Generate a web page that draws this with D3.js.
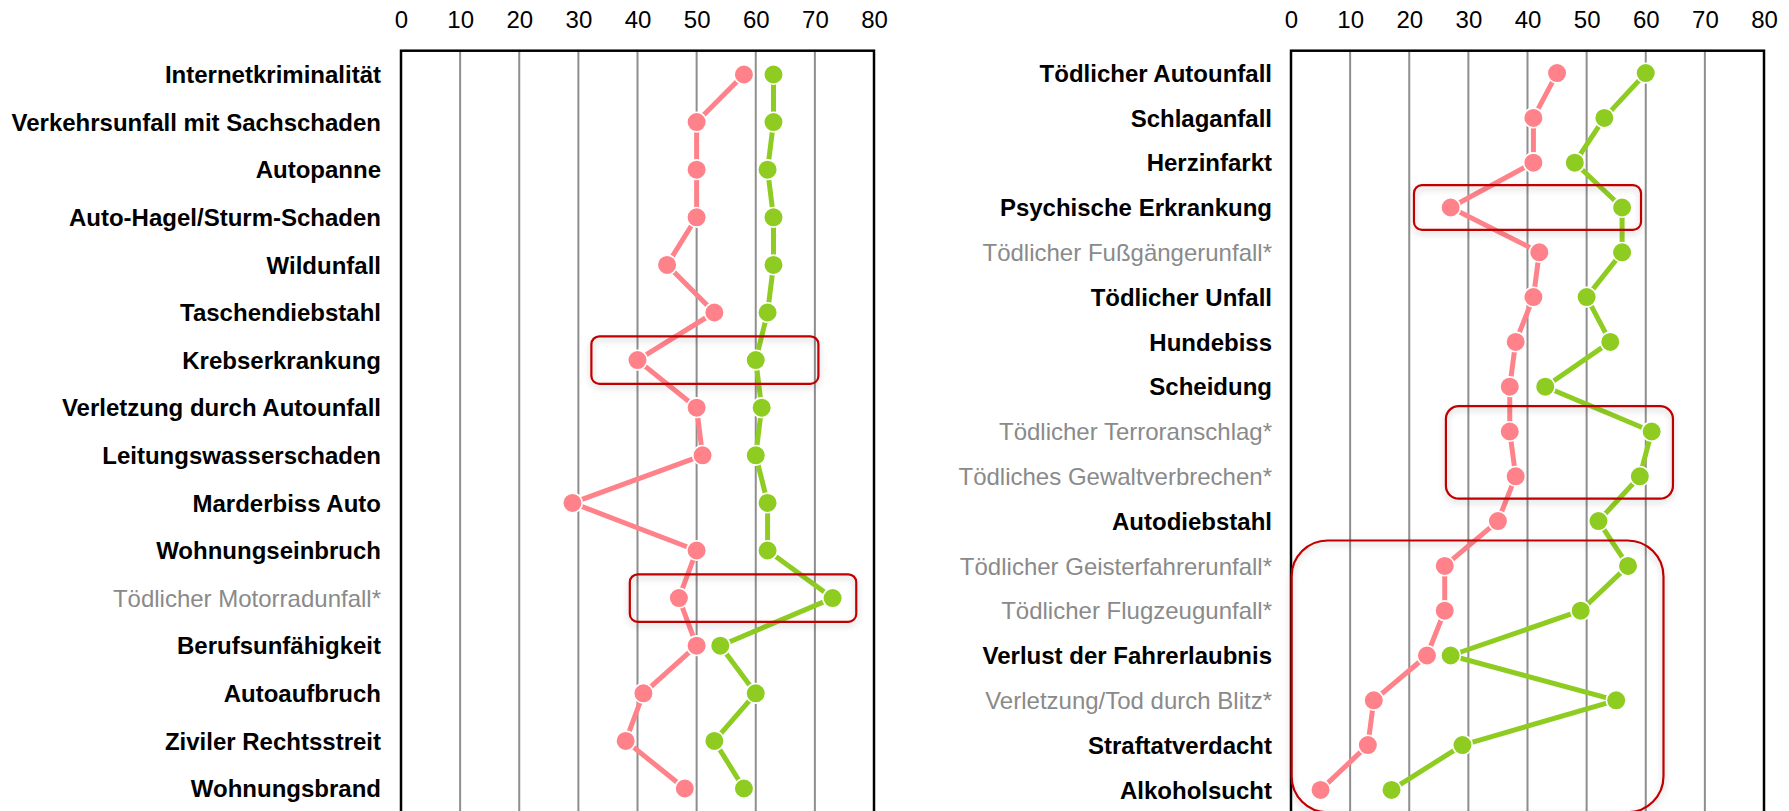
<!DOCTYPE html>
<html>
<head>
<meta charset="utf-8">
<script src="https://cdn.jsdelivr.net/npm/d3@7/dist/d3.min.js"></script>
<style>
  html, body { margin: 0; padding: 0; background: #ffffff; }
  svg { display: block; }
</style>
</head>
<body>
<svg id="chart" width="1789" height="811"></svg>
<script>
// ---------------- DATA ----------------
const xTicks = [0, 10, 20, 30, 40, 50, 60, 70, 80];

const leftCategories = [
  "Internetkriminalität",
  "Verkehrsunfall mit Sachschaden",
  "Autopanne",
  "Auto-Hagel/Sturm-Schaden",
  "Wildunfall",
  "Taschendiebstahl",
  "Krebserkrankung",
  "Verletzung durch Autounfall",
  "Leitungswasserschaden",
  "Marderbiss Auto",
  "Wohnungseinbruch",
  "Tödlicher Motorradunfall*",
  "Berufsunfähigkeit",
  "Autoaufbruch",
  "Ziviler Rechtsstreit",
  "Wohnungsbrand"
];
const leftPink  = [58, 50, 50, 50, 45, 53, 40, 50, 51, 29, 50, 47, 50, 41, 38, 48];
const leftGreen = [63, 63, 62, 63, 63, 62, 60, 61, 60, 62, 62, 73, 54, 60, 53, 58];

const rightCategories = [
  "Tödlicher Autounfall",
  "Schlaganfall",
  "Herzinfarkt",
  "Psychische Erkrankung",
  "Tödlicher Fußgängerunfall*",
  "Tödlicher Unfall",
  "Hundebiss",
  "Scheidung",
  "Tödlicher Terroranschlag*",
  "Tödliches Gewaltverbrechen*",
  "Autodiebstahl",
  "Tödlicher Geisterfahrerunfall*",
  "Tödlicher Flugzeugunfall*",
  "Verlust der Fahrerlaubnis",
  "Verletzung/Tod durch Blitz*",
  "Straftatverdacht",
  "Alkoholsucht"
];
const rightPink  = [45, 41, 41, 27, 42, 41, 38, 37, 37, 38, 35, 26, 26, 23, 14, 13, 5];
const rightGreen = [60, 53, 48, 56, 56, 50, 54, 43, 61, 59, 52, 57, 49, 27, 55, 29, 17];

// highlight boxes: first/last category and value range they span
const leftHighlights = [
  { first: "Krebserkrankung", last: "Krebserkrankung", from: 32.2, to: 70.6 },
  { first: "Tödlicher Motorradunfall*", last: "Tödlicher Motorradunfall*", from: 38.7, to: 77.0 }
];
const rightHighlights = [
  { first: "Psychische Erkrankung", last: "Psychische Erkrankung", from: 20.8, to: 59.2 },
  { first: "Tödlicher Terroranschlag*", last: "Tödliches Gewaltverbrechen*", from: 26.2, to: 64.6 },
  { first: "Tödlicher Geisterfahrerunfall*", last: "Alkoholsucht", from: 0.1, to: 63.0 }
];

// ---------------- STYLE ----------------
const PINK = "#FF828A";
const GREEN = "#8FCC22";
const BOX = "#C00000";
const GRID = "#8E8E8E";
const FONT = "'Liberation Sans', Arial, Helvetica, sans-serif";

const svg = d3.select("#chart");
svg.append("rect").attr("width", 1789).attr("height", 811).attr("fill", "#fff");

const defs = svg.append("defs");
const f = defs.append("filter").attr("id", "shadow")
  .attr("x", "-10%").attr("y", "-10%").attr("width", "120%").attr("height", "130%");
f.append("feDropShadow").attr("dx", 0).attr("dy", 3).attr("stdDeviation", 3)
  .attr("flood-color", "#000").attr("flood-opacity", 0.22);

const plotTop = 50.7;
const plotBottom = 812.3;

function panel(cfg) {
  const x = d3.scaleLinear().domain([0, 80]).range([cfg.x0, cfg.x1]);
  const y = d3.scalePoint().domain(cfg.categories).range([plotTop, plotBottom]).padding(0.5);
  const g = svg.append("g");

  // gridlines
  g.append("g").selectAll("line")
    .data(xTicks.filter(t => t > 0 && t < 80))
    .join("line")
    .attr("x1", d => x(d)).attr("x2", d => x(d))
    .attr("y1", plotTop).attr("y2", plotBottom)
    .attr("stroke", GRID).attr("stroke-width", 2);

  // frame
  g.append("rect")
    .attr("x", x(0)).attr("y", plotTop)
    .attr("width", x(80) - x(0)).attr("height", plotBottom - plotTop)
    .attr("fill", "none").attr("stroke", "#000").attr("stroke-width", 2.5);

  // top axis
  const ax = g.append("g").attr("transform", `translate(0,${plotTop})`)
    .call(d3.axisTop(x).tickValues(xTicks).tickSize(0).tickPadding(22.5).tickFormat(d3.format("d")));
  ax.select(".domain").remove();
  ax.selectAll("text").attr("font-family", FONT).attr("font-size", 24).attr("fill", "#000");

  // category labels
  g.append("g").selectAll("text")
    .data(cfg.categories)
    .join("text")
    .attr("x", cfg.labelX)
    .attr("y", d => y(d))
    .attr("dy", "0.36em")
    .attr("text-anchor", "end")
    .attr("font-family", FONT)
    .attr("font-size", 24)
    .attr("font-weight", d => d.endsWith("*") ? "normal" : "bold")
    .attr("fill", d => d.endsWith("*") ? "#8A8A8A" : "#000")
    .text(d => d);

  const line = d3.line().x(d => x(d.v)).y(d => y(d.c));

  function series(values, color) {
    const pts = cfg.categories.map((c, i) => ({ c, v: values[i] }));
    g.append("path").datum(pts).attr("d", line)
      .attr("fill", "none").attr("stroke", color).attr("stroke-width", 5)
      .attr("stroke-linejoin", "round");
    g.append("g").selectAll("circle").data(pts).join("circle")
      .attr("cx", d => x(d.v)).attr("cy", d => y(d.c)).attr("r", 9.8)
      .attr("fill", color).attr("stroke", "#fff").attr("stroke-width", 1.6);
  }
  series(cfg.pink, PINK);
  series(cfg.green, GREEN);

  // highlight boxes
  const half = y.step() / 2;
  cfg.highlights.forEach(h => {
    const bx0 = x(h.from), bx1 = x(h.to);
    const multi = h.first !== h.last;
    const by0 = y(h.first) - half - (multi ? 3 : 0), by1 = y(h.last) + half;
    const r = Math.min(36, Math.max(8, (by1 - by0) * 0.14));
    g.append("rect")
      .attr("x", bx0).attr("y", by0)
      .attr("width", bx1 - bx0).attr("height", by1 - by0)
      .attr("rx", r).attr("ry", r)
      .attr("fill", "none").attr("stroke", BOX).attr("stroke-width", 2.2)
      .attr("filter", "url(#shadow)");
  });
}

panel({ categories: leftCategories, pink: leftPink, green: leftGreen,
        highlights: leftHighlights, x0: 401, x1: 874, labelX: 381 });
panel({ categories: rightCategories, pink: rightPink, green: rightGreen,
        highlights: rightHighlights, x0: 1291, x1: 1764, labelX: 1272 });
</script>
</body>
</html>
